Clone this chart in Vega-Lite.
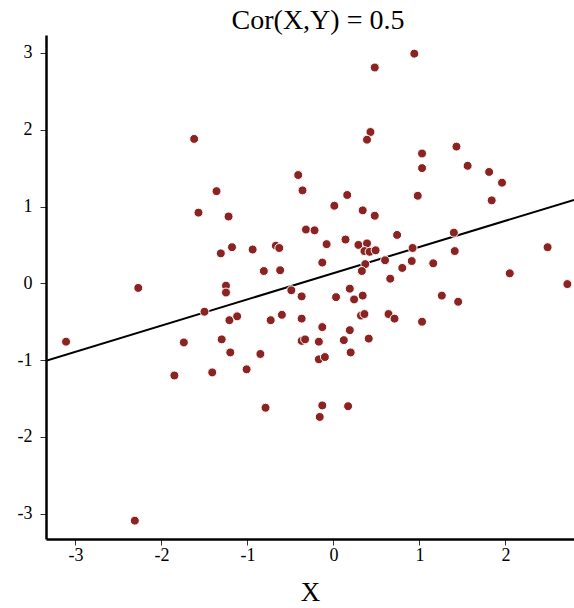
{
  "$schema": "https://vega.github.io/schema/vega-lite/v6.json",
  "width": 528,
  "height": 504,
  "autosize": {"type": "none"},
  "padding": {"left": 46, "top": 35, "right": 0, "bottom": 69},
  "background": "white",
  "title": {
    "text": "Cor(X,Y) = 0.5",
    "font": "Liberation Serif",
    "fontSize": 28,
    "fontWeight": "normal",
    "color": "black",
    "anchor": "middle",
    "frame": "group",
    "dx": 8,
    "baseline": "alphabetic",
    "offset": 6,
    "dy": 28
  },
  "config": {
    "view": {"stroke": null},
    "style": {"guide-label": {"font": "Liberation Serif"}, "guide-title": {"font": "Liberation Serif"}},
    "axis": {
      "grid": false,
      "labelFont": "Liberation Serif",
      "labelFontSize": 18,
      "labelColor": "black",
      "tickColor": "#333333",
      "tickSize": 6,
      "tickWidth": 1,
      "domainColor": "black",
      "domainWidth": 2.5,
      "titleFont": "Liberation Serif",
      "titleFontSize": 27,
      "titleFontWeight": "normal",
      "titleColor": "black"
    }
  },
  "datasets": {
    "pts": [
      {"x": -1.62, "y": 1.88}, {"x": -1.36, "y": 1.20}, {"x": -1.57, "y": 0.92}, {"x": -1.22, "y": 0.87},
      {"x": -0.41, "y": 1.41}, {"x": -0.36, "y": 1.21}, {"x": -0.32, "y": 0.70}, {"x": -0.22, "y": 0.69},
      {"x": -1.31, "y": 0.39}, {"x": -1.18, "y": 0.47}, {"x": -0.94, "y": 0.44}, {"x": -0.67, "y": 0.49},
      {"x": -0.63, "y": 0.46}, {"x": -0.81, "y": 0.16}, {"x": -0.62, "y": 0.17}, {"x": -0.13, "y": 0.27},
      {"x": -2.27, "y": -0.06}, {"x": -1.25, "y": -0.03}, {"x": -1.25, "y": -0.12}, {"x": -0.49, "y": -0.09},
      {"x": 0.94, "y": 2.99}, {"x": 0.48, "y": 2.81}, {"x": 0.43, "y": 1.97}, {"x": 0.39, "y": 1.87},
      {"x": 1.03, "y": 1.69}, {"x": 1.43, "y": 1.78}, {"x": 1.03, "y": 1.50}, {"x": 1.56, "y": 1.53},
      {"x": 1.81, "y": 1.45}, {"x": 1.96, "y": 1.31}, {"x": 1.84, "y": 1.08}, {"x": 0.98, "y": 1.14},
      {"x": 0.16, "y": 1.15}, {"x": 0.01, "y": 1.01}, {"x": 0.34, "y": 0.95}, {"x": 0.48, "y": 0.88},
      {"x": -0.08, "y": 0.51}, {"x": 0.14, "y": 0.57}, {"x": 0.29, "y": 0.50}, {"x": 0.39, "y": 0.52},
      {"x": 0.36, "y": 0.42}, {"x": 0.42, "y": 0.41}, {"x": 0.49, "y": 0.43}, {"x": 0.74, "y": 0.63},
      {"x": 0.92, "y": 0.46}, {"x": 1.40, "y": 0.66}, {"x": 1.41, "y": 0.42}, {"x": 2.49, "y": 0.47},
      {"x": 0.37, "y": 0.25}, {"x": 0.60, "y": 0.30}, {"x": 0.33, "y": 0.16}, {"x": 0.80, "y": 0.20},
      {"x": 0.91, "y": 0.29}, {"x": 1.16, "y": 0.26}, {"x": 0.66, "y": 0.06}, {"x": 2.05, "y": 0.13},
      {"x": 2.72, "y": -0.01}, {"x": 0.19, "y": -0.07}, {"x": -0.37, "y": -0.17}, {"x": 0.03, "y": -0.18},
      {"x": 0.24, "y": -0.21}, {"x": 0.34, "y": -0.16}, {"x": 1.26, "y": -0.16}, {"x": 1.45, "y": -0.24},
      {"x": -0.37, "y": -0.46}, {"x": -0.13, "y": -0.57}, {"x": 0.32, "y": -0.42}, {"x": 0.36, "y": -0.40},
      {"x": 0.64, "y": -0.40}, {"x": 0.71, "y": -0.46}, {"x": 1.03, "y": -0.50}, {"x": 0.19, "y": -0.61},
      {"x": -0.37, "y": -0.75}, {"x": -0.33, "y": -0.73}, {"x": -0.17, "y": -0.76}, {"x": 0.12, "y": -0.74},
      {"x": 0.41, "y": -0.72}, {"x": 0.20, "y": -0.90}, {"x": -0.17, "y": -0.99}, {"x": -0.10, "y": -0.96},
      {"x": -0.13, "y": -1.59}, {"x": 0.17, "y": -1.60}, {"x": -0.16, "y": -1.74}, {"x": -1.50, "y": -0.37},
      {"x": -1.21, "y": -0.48}, {"x": -1.12, "y": -0.43}, {"x": -0.73, "y": -0.48}, {"x": -0.60, "y": -0.41},
      {"x": -3.11, "y": -0.76}, {"x": -1.74, "y": -0.77}, {"x": -1.30, "y": -0.73}, {"x": -1.20, "y": -0.90},
      {"x": -0.85, "y": -0.92}, {"x": -1.85, "y": -1.20}, {"x": -1.41, "y": -1.16}, {"x": -1.01, "y": -1.12},
      {"x": -0.79, "y": -1.62}, {"x": -2.31, "y": -3.09}
    ],
    "fit": [
      {"x": -3.343, "y": -1.008},
      {"x": 2.797, "y": 1.086}
    ]
  },
  "layer": [
    {
      "data": {"name": "fit"},
      "mark": {"type": "line", "color": "black", "strokeWidth": 2, "clip": true},
      "encoding": {
        "x": {"field": "x", "type": "quantitative"},
        "y": {"field": "y", "type": "quantitative"}
      }
    },
    {
      "data": {"name": "pts"},
      "mark": {"type": "point", "filled": true, "shape": "circle", "size": 80, "fill": "#8B2323", "fillOpacity": 1, "stroke": "white", "strokeWidth": 1, "opacity": 1},
      "encoding": {
        "x": {
          "field": "x", "type": "quantitative",
          "scale": {"domain": [-3.343, 2.797], "nice": false, "zero": false},
          "axis": {"title": "X", "values": [-3, -2, -1, 0, 1, 2], "labelExpr": "'' + datum.value", "labelFont": "Liberation Serif", "labelPadding": 1, "titlePadding": 15}
        },
        "y": {
          "field": "y", "type": "quantitative",
          "scale": {"domain": [-3.329, 3.233], "nice": false, "zero": false},
          "axis": {"title": null, "values": [-3, -2, -1, 0, 1, 2, 3], "labelExpr": "'' + datum.value", "labelFont": "Liberation Serif", "labelPadding": 8}
        }
      }
    }
  ]
}
